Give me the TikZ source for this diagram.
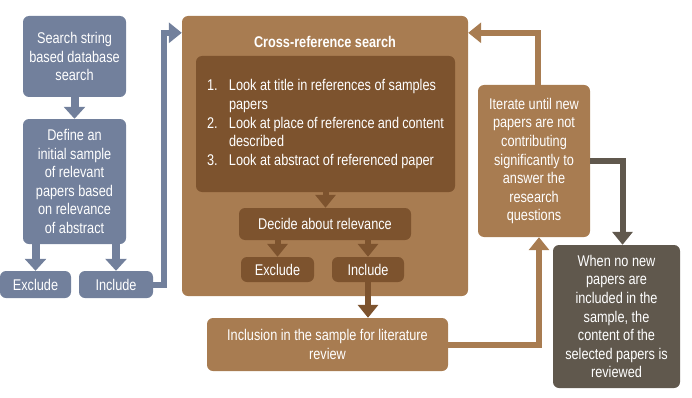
\documentclass[tikz,border=0pt]{standalone}
\usepackage{fontspec}
\setmainfont{Liberation Sans}[FakeStretch=0.82]
\usetikzlibrary{arrows.meta, positioning, calc}
\definecolor{slate}{RGB}{114,128,156}
\definecolor{tan}{RGB}{168,124,81}
\definecolor{umber}{RGB}{125,83,46}
\definecolor{taupe}{RGB}{96,88,77}

\begin{document}
\begin{tikzpicture}[
    x=1pt, y=1pt,
    box/.style={rounded corners=6pt, align=center, text=white, inner sep=2pt, font=\fontsize{15.5}{18.6}\selectfont},
    arr/.style={-{Triangle[width=20pt, length=13pt]}, line width=6pt},
    shortarr/.style={-{Triangle[width=21pt, length=12pt]}, line width=8pt}
]
\useasboundingbox (0,0) rectangle (692,397);

% search phase
\node[box, fill=slate, minimum width=103pt, minimum height=81pt] (search) at (74.5,340.5) {Search string\\based database\\search};
\node[box, fill=slate, minimum width=103pt, minimum height=125pt] (define) at (74.5,215.5) {Define an\\initial sample\\of relevant\\papers based\\on relevance\\of abstract};
\node[box, fill=slate, minimum width=71pt, minimum height=27pt] (exclB) at (35.5,112.5) {Exclude};
\node[box, fill=slate, minimum width=74pt, minimum height=27pt] (inclB) at (116,112.5) {Include};

% cross-reference search
\node[box, fill=tan, minimum width=286pt, minimum height=280pt] (crossref) at (325,241) {};
\node[box, font=\fontsize{15.5}{18.6}\selectfont\bfseries] (crosstitle) at (325,355) {Cross-reference search};
\node[box, fill=umber, minimum width=259pt, minimum height=136pt, align=left] (steps) at (325.5,273) {%
  \parbox{237pt}{\hangindent=22pt\hangafter=1
    \makebox[22pt][l]{1.}Look at title in references of samples\newline papers\par
    \hangindent=22pt\hangafter=1
    \makebox[22pt][l]{2.}Look at place of reference and content\newline described\par
    \hangindent=22pt\hangafter=1
    \makebox[22pt][l]{3.}Look at abstract of referenced paper}};
\node[box, fill=umber, minimum width=172pt, minimum height=32pt] (decide) at (325,173) {Decide about relevance};
\node[box, fill=umber, minimum width=73pt, minimum height=25pt] (exclR) at (277.5,127.5) {Exclude};
\node[box, fill=umber, minimum width=72pt, minimum height=25pt] (inclR) at (368,127.5) {Include};

% outcome
\node[box, fill=tan, minimum width=241pt, minimum height=53pt] (inclusion) at (327.5,52.5) {Inclusion in the sample for literature\\review};
\node[box, fill=tan, minimum width=112pt, minimum height=152pt] (iterate) at (534,236) {Iterate until new\\papers are not\\contributing\\significantly to\\answer the\\research\\questions};
\node[box, fill=taupe, minimum width=127pt, minimum height=143pt] (when) at (616.5,80.5) {When no new\\papers are\\included in the\\sample, the\\content of the\\selected papers is\\reviewed};

% arrows
\draw[shortarr, slate] (search) -- (define);
\draw[shortarr, slate] (exclB.north |- define.south) -- (exclB.north);
\draw[shortarr, slate] (inclB.north |- define.south) -- (inclB.north);
\draw[arr, slate] (inclB.east) -- ++(11,0) |- ($(crossref.north west)+(0,-17)$);

\draw[arr, umber] (steps) -- (steps.south |- decide.north);
\draw[arr, umber] (exclR.north |- decide.south) -- (exclR.north);
\draw[arr, umber] (inclR.north |- decide.south) -- (inclR.north);
\draw[arr, umber] (inclR.south) -- (inclR.south |- inclusion.north);

\draw[arr, tan] (inclusion.east) -| ([xshift=5pt]iterate.south);
\draw[arr, tan] ([xshift=4pt]iterate.north) |- ($(crossref.north east)+(0,-17)$);
\draw[arr, taupe] (iterate.east) -| ([xshift=6pt]when.north);
\end{tikzpicture}
\end{document}
